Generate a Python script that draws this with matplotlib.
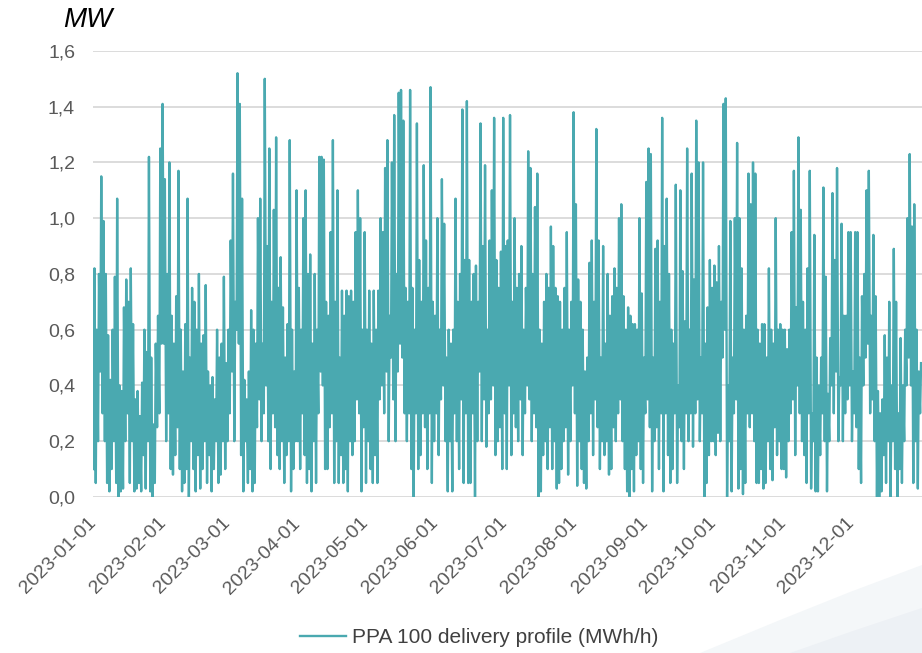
import numpy as np
import pandas as pd
import matplotlib
matplotlib.use('Agg')
from matplotlib import pyplot as plt
from matplotlib.patches import Polygon

plt.rcParams['font.family'] = ['Liberation Sans', 'DejaVu Sans']

# daily peak / trough values (MW), one pair per day
jan_hi = [0.82, 0.60, 0.80, 1.15, 0.99, 0.80, 0.58, 0.42, 0.60, 0.79, 1.07, 0.40, 0.38, 0.68, 0.78, 0.70,
          0.82, 0.62, 0.35, 0.38, 0.29, 0.41, 0.60, 0.52, 1.22, 0.50, 0.26, 0.55, 0.65, 1.25, 1.41]
jan_lo = [0.10, 0.05, 0.20, 0.45, 0.30, 0.20, 0.05, 0.02, 0.10, 0.20, 0.05, 0.00, 0.02, 0.03, 0.20, 0.30,
          0.05, 0.20, 0.02, 0.03, 0.05, 0.02, 0.15, 0.03, 0.20, 0.02, 0.00, 0.05, 0.25, 0.30, 0.55]
feb_hi = [1.14, 0.80, 1.20, 0.65, 0.55, 0.72, 1.17, 0.60, 0.45, 0.62, 1.07, 0.50, 0.75, 0.70,
          0.60, 0.80, 0.55, 0.58, 0.76, 0.45, 0.40, 0.43, 0.35, 0.60, 0.50, 0.55, 0.79, 0.48]
feb_lo = [0.55, 0.20, 0.30, 0.10, 0.08, 0.15, 0.25, 0.10, 0.02, 0.05, 0.10, 0.00, 0.20, 0.10,
          0.02, 0.15, 0.03, 0.10, 0.20, 0.05, 0.15, 0.02, 0.10, 0.20, 0.05, 0.08, 0.20, 0.10]
mar_hi = [0.60, 0.92, 1.16, 0.70, 1.52, 1.41, 1.07, 0.42, 0.35, 0.45, 0.67, 0.60, 0.55, 1.00, 1.07, 0.55,
          1.50, 0.90, 1.25, 0.70, 1.03, 1.29, 0.75, 0.86, 0.68, 0.50, 0.62, 1.28, 0.60, 0.45, 1.10]
mar_lo = [0.20, 0.30, 0.45, 0.20, 0.60, 0.55, 0.15, 0.02, 0.20, 0.05, 0.10, 0.02, 0.05, 0.25, 0.35, 0.20,
          0.30, 0.40, 0.20, 0.10, 0.30, 0.25, 0.15, 0.10, 0.20, 0.05, 0.15, 0.20, 0.02, 0.10, 0.20]
apr_hi = [0.75, 0.60, 1.00, 1.10, 0.80, 0.87, 0.55, 0.80, 0.60, 1.22, 1.22, 1.21, 0.70, 0.65, 0.95,
          1.28, 0.70, 1.10, 0.50, 0.74, 0.65, 0.74, 0.72, 0.74, 0.70, 0.95, 1.10, 1.00, 0.60, 0.95]
apr_lo = [0.20, 0.10, 0.30, 0.15, 0.05, 0.10, 0.02, 0.20, 0.05, 0.30, 0.45, 0.40, 0.10, 0.10, 0.25,
          0.30, 0.05, 0.20, 0.05, 0.15, 0.05, 0.10, 0.02, 0.20, 0.15, 0.20, 0.35, 0.30, 0.02, 0.25]
may_hi = [0.60, 0.74, 0.55, 0.74, 0.60, 0.74, 1.00, 0.95, 1.18, 1.28, 0.65, 1.20, 1.37, 0.80, 1.45, 1.46,
          1.35, 0.75, 0.70, 1.46, 0.75, 0.60, 1.34, 0.85, 0.70, 1.19, 0.92, 0.75, 1.47, 0.70, 0.65]
may_lo = [0.05, 0.20, 0.10, 0.05, 0.15, 0.05, 0.35, 0.40, 0.30, 0.45, 0.20, 0.50, 0.35, 0.20, 0.45, 0.55,
          0.50, 0.30, 0.20, 0.30, 0.10, 0.00, 0.30, 0.10, 0.15, 0.30, 0.25, 0.10, 0.30, 0.05, 0.20]
jun_hi = [1.00, 0.60, 1.14, 0.98, 0.50, 0.60, 0.55, 0.60, 1.07, 0.70, 0.80, 1.39, 0.85, 1.42, 0.85,
          0.70, 0.80, 0.83, 0.70, 1.34, 0.90, 1.19, 0.60, 0.92, 1.10, 1.36, 0.85, 0.75, 0.88, 1.36]
jun_lo = [0.30, 0.15, 0.35, 0.40, 0.20, 0.02, 0.20, 0.02, 0.30, 0.20, 0.10, 0.35, 0.05, 0.30, 0.05,
          0.05, 0.30, 0.00, 0.20, 0.45, 0.20, 0.35, 0.18, 0.30, 0.35, 0.40, 0.15, 0.20, 0.25, 0.10]
jul_hi = [0.90, 0.92, 1.37, 0.70, 1.00, 0.75, 0.80, 0.90, 0.60, 0.75, 1.24, 1.18, 0.80, 1.04, 1.16, 0.60,
          0.55, 0.70, 0.80, 0.75, 0.97, 0.90, 0.75, 0.72, 0.70, 0.60, 0.75, 0.95, 0.60, 0.70, 1.38]
jul_lo = [0.30, 0.10, 0.40, 0.15, 0.30, 0.25, 0.20, 0.35, 0.15, 0.30, 0.40, 0.35, 0.20, 0.30, 0.25, 0.00,
          0.02, 0.15, 0.20, 0.10, 0.25, 0.10, 0.20, 0.03, 0.05, 0.10, 0.20, 0.25, 0.08, 0.20, 0.40]
aug_hi = [1.05, 0.78, 0.70, 0.60, 0.45, 0.50, 0.84, 0.92, 0.70, 1.32, 0.92, 0.50, 0.90, 0.55, 0.80, 0.65,
          0.72, 0.82, 0.75, 1.00, 1.05, 0.72, 0.60, 0.68, 0.65, 0.62, 0.62, 0.60, 1.00, 0.73, 0.50]
aug_lo = [0.30, 0.04, 0.20, 0.10, 0.05, 0.03, 0.20, 0.30, 0.15, 0.35, 0.25, 0.10, 0.20, 0.15, 0.20, 0.08,
          0.10, 0.25, 0.20, 0.30, 0.35, 0.20, 0.10, 0.02, 0.00, 0.10, 0.02, 0.15, 0.20, 0.10, 0.05]
sep_hi = [1.13, 1.25, 1.23, 0.50, 0.89, 0.92, 0.70, 1.36, 0.90, 1.07, 0.80, 0.60, 0.55, 1.12, 0.40,
          1.10, 0.81, 0.63, 1.25, 0.60, 1.16, 0.78, 1.35, 1.20, 0.50, 1.20, 0.55, 0.68, 0.85, 0.75]
sep_lo = [0.30, 0.35, 0.25, 0.02, 0.20, 0.25, 0.10, 0.30, 0.02, 0.30, 0.15, 0.05, 0.10, 0.30, 0.05,
          0.25, 0.20, 0.10, 0.30, 0.20, 0.30, 0.18, 0.30, 0.35, 0.20, 0.30, 0.00, 0.05, 0.15, 0.20]
oct_hi = [0.83, 0.77, 0.90, 0.70, 1.41, 1.43, 0.40, 0.99, 0.50, 1.00, 1.27, 1.00, 0.82, 0.60, 0.65, 1.16,
          1.05, 1.20, 1.16, 0.60, 0.55, 0.62, 0.62, 0.50, 0.82, 0.60, 0.55, 1.00, 0.60, 0.62, 0.60]
oct_lo = [0.20, 0.15, 0.23, 0.20, 0.50, 0.60, 0.00, 0.20, 0.02, 0.30, 0.35, 0.03, 0.10, 0.01, 0.05, 0.30,
          0.25, 0.30, 0.20, 0.05, 0.05, 0.10, 0.03, 0.05, 0.20, 0.10, 0.06, 0.25, 0.15, 0.20, 0.10]
nov_hi = [0.60, 0.53, 0.60, 0.95, 1.17, 0.68, 1.29, 1.03, 0.70, 0.60, 0.82, 1.17, 0.30, 0.94, 0.50,
          0.40, 0.50, 1.11, 0.79, 0.37, 0.57, 1.09, 0.85, 1.18, 0.43, 0.98, 0.65, 0.65, 0.95, 0.95]
nov_lo = [0.10, 0.07, 0.20, 0.30, 0.35, 0.15, 0.40, 0.30, 0.20, 0.15, 0.05, 0.30, 0.03, 0.20, 0.02,
          0.02, 0.15, 0.30, 0.20, 0.02, 0.20, 0.40, 0.30, 0.45, 0.20, 0.40, 0.20, 0.30, 0.35, 0.40]
dec_hi = [0.45, 0.95, 0.95, 0.50, 0.72, 0.80, 1.10, 1.17, 0.65, 0.94, 0.72, 0.38, 0.30, 0.35, 0.58, 0.50,
          0.70, 0.40, 0.89, 0.70, 0.30, 0.57, 0.40, 0.60, 1.00, 1.23, 0.97, 1.05, 0.60, 0.45, 0.48]
dec_lo = [0.20, 0.30, 0.25, 0.10, 0.05, 0.40, 0.50, 0.55, 0.30, 0.35, 0.20, 0.00, 0.00, 0.02, 0.15, 0.05,
          0.20, 0.00, 0.20, 0.10, 0.00, 0.10, 0.05, 0.20, 0.40, 0.50, 0.40, 0.05, 0.20, 0.03, 0.30]

month_hi = [jan_hi, feb_hi, mar_hi, apr_hi, may_hi, jun_hi, jul_hi, aug_hi, sep_hi, oct_hi, nov_hi, dec_hi]
month_lo = [jan_lo, feb_lo, mar_lo, apr_lo, may_lo, jun_lo, jul_lo, aug_lo, sep_lo, oct_lo, nov_lo, dec_lo]

y_ticks = [0.0, 0.2, 0.4, 0.6, 0.8, 1.0, 1.2, 1.4, 1.6]
x_ticks = pd.date_range('2023-01-01', periods=12, freq='MS')
series_name = 'PPA 100 delivery profile (MWh/h)'

# build time series: trough in the early morning, peak around midday
times = []
values = []
for m in range(12):
    start = pd.Timestamp(2023, m + 1, 1)
    for d, (lo, hi) in enumerate(zip(month_lo[m], month_hi[m])):
        day = start + pd.Timedelta(days=d)
        times.append(day + pd.Timedelta(hours=4))
        values.append(lo)
        times.append(day + pd.Timedelta(hours=14))
        values.append(hi)

color = '#4aa9b0'

fig = plt.figure(figsize=(9.22, 6.53), dpi=100)

# very faint background swoosh, bottom right
bg = fig.add_axes([0, 0, 1, 1], zorder=-5)
bg.axis('off')
bg.set_xlim(0, 922)
bg.set_ylim(653, 0)
bg.add_patch(Polygon([[700, 653], [780, 620], [850, 592], [922, 565], [922, 653]],
                     closed=True, fc='#f4f7f9', ec='none'))
bg.add_patch(Polygon([[790, 653], [850, 632], [922, 608], [922, 653]],
                     closed=True, fc='#edf1f5', ec='none'))

ax = fig.add_axes([0.101, 0.239, 0.899, 0.683])
ax.patch.set_alpha(0)
ax.plot(times, values, color=color, lw=1.7, label=series_name)

ax.set_ylim(0, 1.6)
ax.set_xlim(pd.Timestamp('2023-01-01'), pd.Timestamp('2024-01-01'))
ax.set_yticks(y_ticks)
ax.set_yticklabels([('%.1f' % v).replace('.', ',') for v in y_ticks])
ax.set_xticks(x_ticks)
ax.set_xticklabels([t.strftime('%Y-%m-%d') for t in x_ticks], rotation=45,
                   ha='right', va='center', rotation_mode='anchor')
ax.grid(axis='y', color='#d9d9d9', lw=1.3)
ax.set_axisbelow(True)
for s in ax.spines.values():
    s.set_visible(False)
ax.tick_params(axis='both', length=0, labelsize=14, colors='#595959')
ax.tick_params(axis='y', pad=13)
ax.tick_params(axis='x', pad=17)

fig.text(0.069, 0.969, 'MW', fontsize=20, style='italic', ha='left', va='center')

leg = fig.legend(loc='center', bbox_to_anchor=(0.52, 0.024), frameon=False,
                 fontsize=15, handlelength=2.2, handletextpad=0.3)
for t in leg.get_texts():
    t.set_color('#404040')

fig.savefig('out.png', dpi=100)
